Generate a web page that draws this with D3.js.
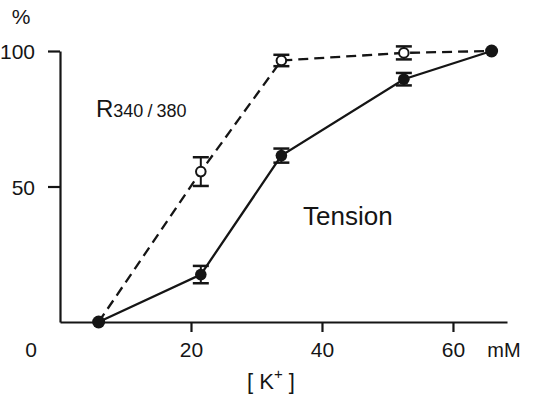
<!DOCTYPE html>
<html>
<head>
<meta charset="utf-8">
<script src="https://cdn.jsdelivr.net/npm/d3@7"></script>
<style>
  body { margin: 0; background: #fff; }
  text { font-family: "Liberation Sans", Arial, sans-serif; fill: #151515; }
</style>
</head>
<body>
<svg width="537" height="397"></svg>
<script>
// [K+] concentrations (mM)
var potassium = [5.9, 21.5, 33.8, 52.5, 65.9];
// R340/380 (% of max), open circles, dashed line
var ratio = [0, 55.5, 96.5, 99.3, 100];
var ratioErr = [0, 5.3, 2.1, 2.4, 0];
// Tension (% of max), filled circles, solid line
var tension = [0, 17.5, 61.4, 89.6, 100];
var tensionErr = [0, 3.2, 2.6, 2.3, 0];

var xTicks = [20, 40, 60];
var yTicks = [50, 100];

var svg = d3.select("svg");
var ink = "#151515";

var x = d3.scaleLinear().domain([0, 68.25]).range([60, 507]);
var y = d3.scaleLinear().domain([0, 100]).range([322, 51]);

// axes
var xAxis = svg.append("g")
    .attr("transform", "translate(0," + y(0) + ")")
    .call(d3.axisBottom(x).tickValues(xTicks).tickSize(10).tickSizeOuter(0).tickPadding(10));
var yAxis = svg.append("g")
    .attr("transform", "translate(" + x(0) + ",0)")
    .call(d3.axisLeft(y).tickValues(yTicks).tickSize(12).tickSizeOuter(0).tickPadding(13));

[xAxis, yAxis].forEach(function (a) {
    a.select(".domain").attr("stroke", ink).attr("stroke-width", 2.2);
    a.selectAll(".tick line").attr("stroke", ink).attr("stroke-width", 2.2);
    a.selectAll(".tick text")
        .style("font-family", "'Liberation Sans', Arial, sans-serif")
        .style("font-size", "21px")
        .attr("fill", ink);
});
yAxis.selectAll(".tick text").attr("dy", "0.38em");

// corner zero, units, axis title
svg.append("text").attr("x", x(0) - 29).attr("y", 357)
    .attr("text-anchor", "middle").style("font-size", "21px").text("0");
svg.append("text").attr("x", 504).attr("y", 357)
    .attr("text-anchor", "middle").style("font-size", "20px").text("mM");
svg.append("text").attr("x", 21).attr("y", 24)
    .attr("text-anchor", "middle").style("font-size", "21px").text("%");

var kLabel = svg.append("text").attr("x", 271).attr("y", 389)
    .attr("text-anchor", "middle").style("font-size", "22px");
kLabel.append("tspan").text("[ K");
kLabel.append("tspan").attr("dy", -10).style("font-size", "15px").text("+");
kLabel.append("tspan").attr("dy", 10).text(" ]");

// series labels
var rLabel = svg.append("text").attr("x", 96).attr("y", 117).style("font-size", "24px");
rLabel.append("tspan").text("R");
rLabel.append("tspan").style("font-size", "18px").text("340");
rLabel.append("tspan").style("font-size", "18px").attr("dx", 4).text("/");
rLabel.append("tspan").style("font-size", "18px").attr("dx", 4).text("380");

svg.append("text").attr("x", 303).attr("y", 225).style("font-size", "26px").text("Tension");

// lines
var rows = potassium.map(function (k, i) {
    return { k: k, r: ratio[i], re: ratioErr[i], t: tension[i], te: tensionErr[i] };
});

var lineR = d3.line().x(d => x(d.k)).y(d => y(d.r));
var lineT = d3.line().x(d => x(d.k)).y(d => y(d.t));

svg.append("path").datum(rows).attr("d", lineR)
    .attr("fill", "none").attr("stroke", ink).attr("stroke-width", 2.3)
    .attr("stroke-dasharray", "10,6");
svg.append("path").datum(rows).attr("d", lineT)
    .attr("fill", "none").attr("stroke", ink).attr("stroke-width", 2.3);

// error bars
function errorBars(key, errKey) {
    var inner = rows.filter(d => d[errKey] > 0);
    var g = svg.append("g").attr("stroke", ink);
    g.selectAll("line.v").data(inner).enter().append("line")
        .attr("x1", d => x(d.k)).attr("x2", d => x(d.k))
        .attr("y1", d => y(d[key] + d[errKey])).attr("y2", d => y(d[key] - d[errKey]))
        .attr("stroke-width", 2);
    [1, -1].forEach(function (s) {
        g.selectAll("line.c" + s).data(inner).enter().append("line")
            .attr("x1", d => x(d.k) - 8).attr("x2", d => x(d.k) + 8)
            .attr("y1", d => y(d[key] + s * d[errKey])).attr("y2", d => y(d[key] + s * d[errKey]))
            .attr("stroke-width", 2.5);
    });
}
errorBars("r", "re");
errorBars("t", "te");

// markers
var mid = rows.slice(1, rows.length - 1);
var ends = [rows[0], rows[rows.length - 1]];

svg.append("g").selectAll("circle").data(mid).enter().append("circle")
    .attr("cx", d => x(d.k)).attr("cy", d => y(d.r)).attr("r", 4.8)
    .attr("fill", "#fff").attr("stroke", ink).attr("stroke-width", 2);
svg.append("g").selectAll("circle").data(mid).enter().append("circle")
    .attr("cx", d => x(d.k)).attr("cy", d => y(d.t)).attr("r", 5.8)
    .attr("fill", ink);
svg.append("g").selectAll("circle").data(ends).enter().append("circle")
    .attr("cx", d => x(d.k)).attr("cy", d => y(d.t)).attr("r", 6.5)
    .attr("fill", ink);
</script>
</body>
</html>
